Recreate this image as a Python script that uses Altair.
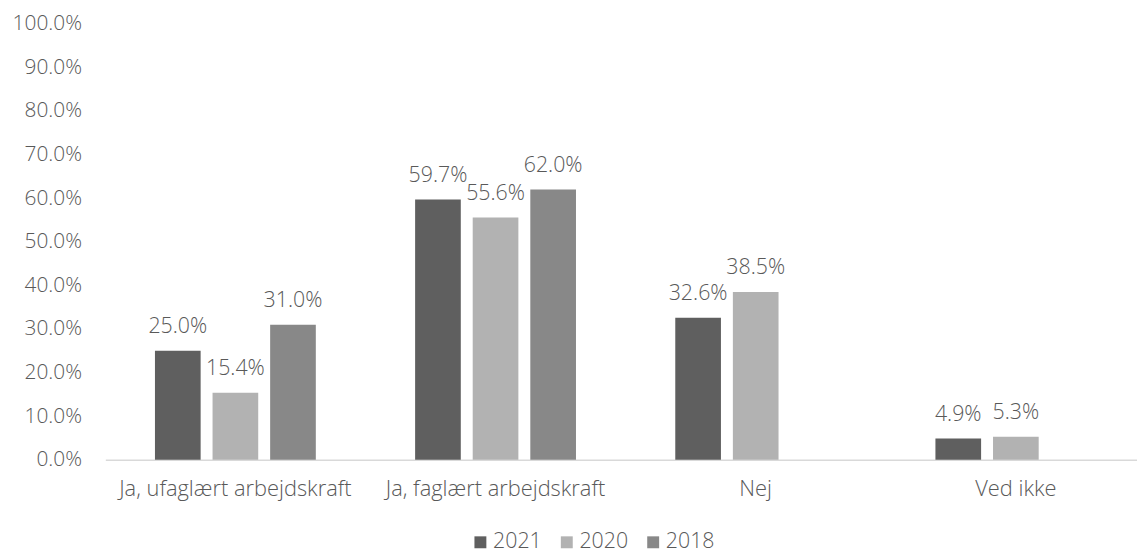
import altair as alt
import pandas as pd

categories = ["Ja, ufaglært arbejdskraft", "Ja, faglært arbejdskraft", "Nej", "Ved ikke"]
series = ["2021", "2020", "2018"]
v2021 = [25.0, 59.7, 32.6, 4.9]
v2020 = [15.4, 55.6, 38.5, 5.3]
v2018 = [31.0, 62.0, None, None]
colors = ["#5f5f5f", "#b2b2b2", "#888888"]

rows = []
for s, vals in zip(series, [v2021, v2020, v2018]):
    for c, v in zip(categories, vals):
        if v is not None:
            rows.append({"cat": c, "year": s, "value": v / 100.0})
df = pd.DataFrame(rows)

FONT = "Open Sans"
TXT = "#595959"
NUM = 21.5
CATF = 22

x = alt.X("cat:N", sort=categories, title=None,
          scale=alt.Scale(domain=categories, range=[2, 1050], paddingInner=0, paddingOuter=0),
          axis=alt.Axis(labelAngle=0, ticks=False, domainColor="#d9d9d9", domainWidth=1.5,
                        labelPadding=19, labelFontSize=CATF, labelColor=TXT, labelFont=FONT,
                        labelFontWeight=300, labelLimit=0))
xo = alt.XOffset("year:N", sort=series,
                 scale=alt.Scale(domain=series, paddingInner=0.207, paddingOuter=0.862))
y = alt.Y("value:Q", title=None,
          scale=alt.Scale(domain=[0, 1], nice=False),
          axis=alt.Axis(format=".1%", values=[i / 10 for i in range(11)], grid=False,
                        domain=False, ticks=False, labelPadding=22, labelFontSize=21,
                        labelColor=TXT, labelFont=FONT, labelFontWeight=300))

color = alt.Color("year:N", sort=series,
                  scale=alt.Scale(domain=series, range=colors),
                  legend=alt.Legend(title=None, orient="none", direction="horizontal",
                                    legendX=369, legendY=511, symbolType="square",
                                    symbolSize=144, symbolStrokeWidth=0, labelFontSize=NUM,
                                    labelColor=TXT, labelFont=FONT, labelFontWeight=300,
                                    labelOffset=2, columnPadding=14))

bars = alt.Chart(df).mark_bar().encode(x=x, xOffset=xo, y=y, color=color)
labels = alt.Chart(df).mark_text(dy=-18, baseline="alphabetic", fontSize=NUM, font=FONT,
                                 fontWeight=300, color=TXT).encode(
    x=x, xOffset=xo, y=y, text=alt.Text("value:Q", format=".1%"))

chart = (bars + labels).properties(
    width=1041, height=439,
    autosize=alt.AutoSizeParams(type="none"),
    padding={"left": 96, "top": 14, "right": 0, "bottom": 100},
).configure(background="white", view=alt.ViewConfig(stroke=None))

chart.save("out.html", embed_options={"renderer": "svg", "actions": False})
